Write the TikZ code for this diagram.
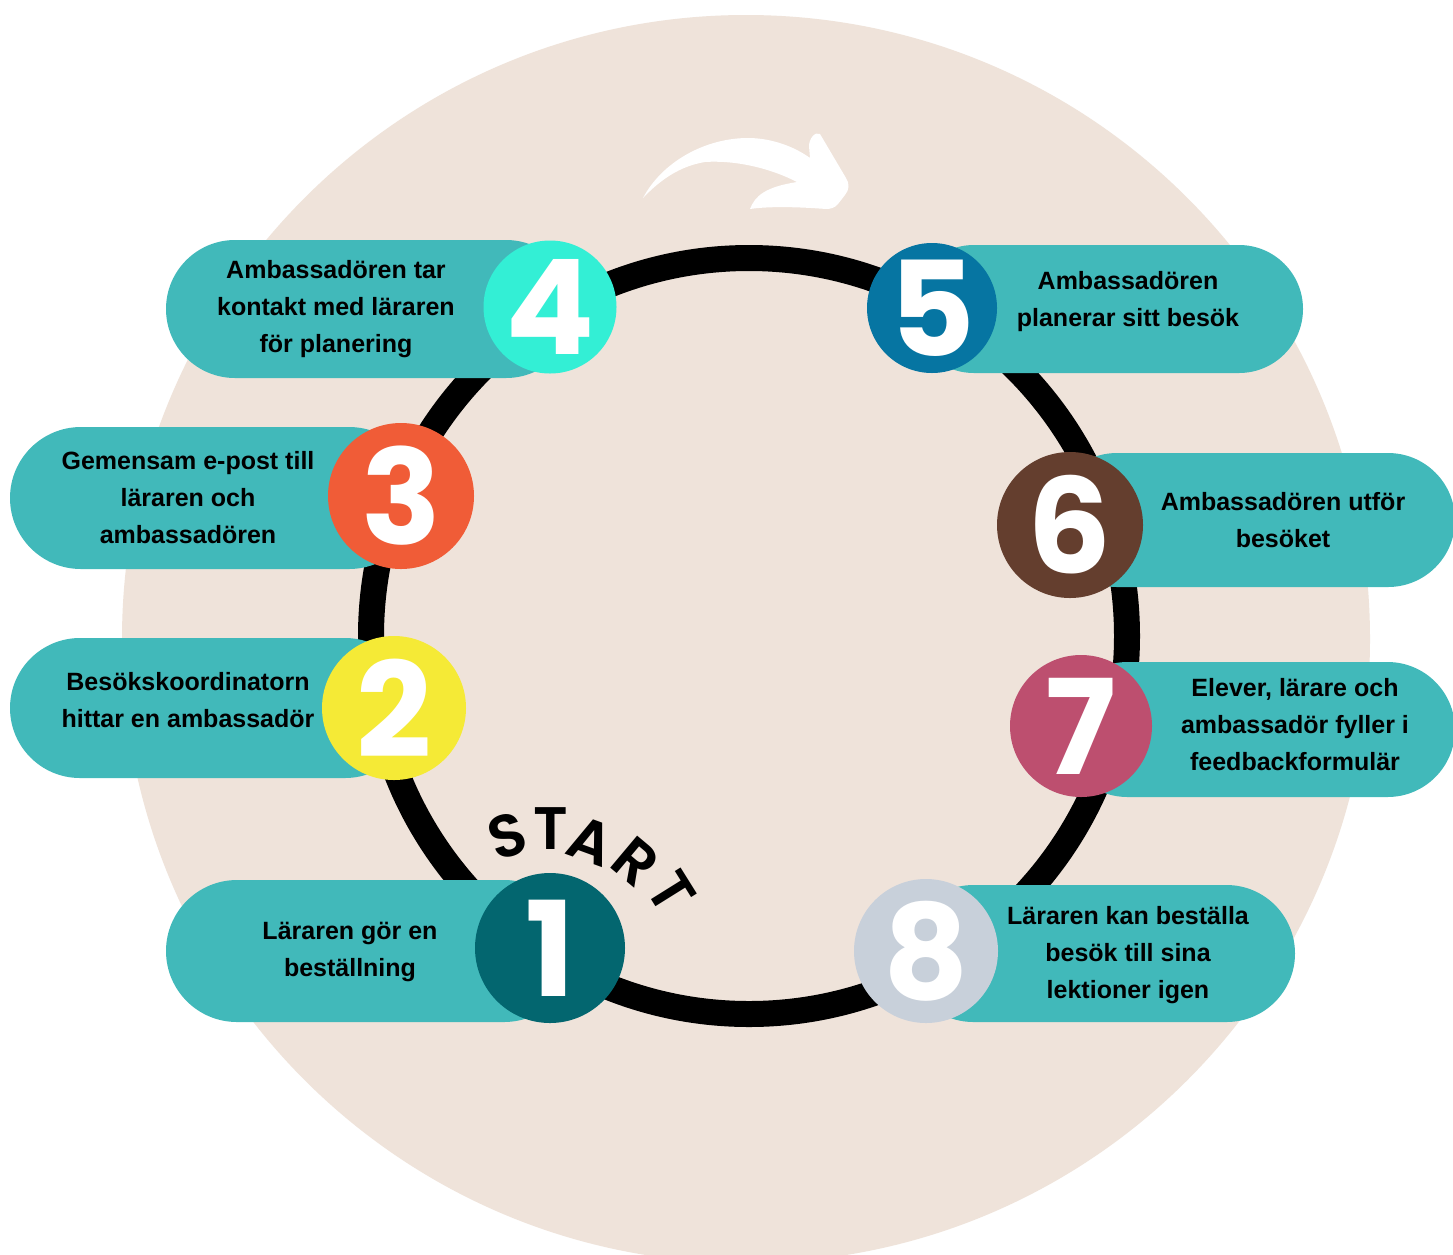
\documentclass[tikz,border=0pt]{standalone}
\usepackage{fontspec}
\setmainfont{Liberation Sans}
\newfontfamily\digitfont{Poppins}
\newfontfamily\startfont{Poppins SemiBold}
\usetikzlibrary{shapes.misc}

\definecolor{beige}{HTML}{EFE3DA}
\definecolor{pillteal}{HTML}{41B9BA}
\definecolor{cone}{HTML}{03666F}
\definecolor{ctwo}{HTML}{F5EA36}
\definecolor{cthree}{HTML}{F05C37}
\definecolor{cfour}{HTML}{33EFD5}
\definecolor{cfive}{HTML}{0675A2}
\definecolor{csix}{HTML}{643E2E}
\definecolor{cseven}{HTML}{BD4F6F}
\definecolor{ceight}{HTML}{C8D0DA}

\begin{document}
\begin{tikzpicture}[x=1pt,y=-1pt,
    pillbox/.style={rounded rectangle,fill=pillteal,inner sep=0pt,outer sep=0pt},
    numdot/.style={circle,inner sep=0pt,text=white,font=\digitfont\bfseries\fontsize{132}{132}\selectfont},
    steptext/.style={align=center,font=\bfseries\fontsize{25}{37}\selectfont},
    startletter/.style={inner sep=0pt,font=\startfont\fontsize{60}{60}\selectfont}]
  \clip (0,0) rectangle (1453,1254);
  \fill[white] (0,0) rectangle (1453,1254);
  % background disc and ring
  \fill[beige] (746,639) circle[radius=624pt];
  \coordinate (mid) at (749,636);
  \draw[line width=26pt] (mid) circle[radius=378pt];
  % white arrow on top
  \fill[white] (643,198) .. controls (662,162) and (705,138) .. (748,138)
    .. controls (772,138) and (795,147) .. (810,158) -- (809,146)
    .. controls (809,139) and (815,131) .. (820,134) -- (846,178)
    .. controls (850,184) and (849,190) .. (845,195) -- (838,204)
    .. controls (835,208) and (830,209) .. (826,209)
    .. controls (800,207) and (770,206) .. (750,209)
    .. controls (755,196) and (765,187) .. (797,182)
    .. controls (770,168) and (735,160) .. (705,162)
    .. controls (680,166) and (660,180) .. (643,198) -- cycle;
  % pills
  \node[pillbox,minimum width=409pt,minimum height=138pt] (p4) at (370.5,309) {};
  \node[pillbox,minimum width=410pt,minimum height=142pt] (p3) at (215,498) {};
  \node[pillbox,minimum width=405pt,minimum height=140pt] (p2) at (212.5,708) {};
  \node[pillbox,minimum width=409pt,minimum height=142pt] (p1) at (370.5,951) {};
  \node[pillbox,minimum width=393pt,minimum height=128pt] (p5) at (1106.5,309) {};
  \node[pillbox,minimum width=405pt,minimum height=134pt] (p6) at (1252.5,520) {};
  \node[pillbox,minimum width=395pt,minimum height=135pt] (p7) at (1257.5,729.5) {};
  \node[pillbox,minimum width=390pt,minimum height=137pt] (p8) at (1100,953.5) {};
  % numbered discs
  \node[numdot,fill=cfour,minimum size=133pt] (n4) at (550,307) {4};
  \node[numdot,fill=cthree,minimum size=146pt] (n3) at (401,496) {3};
  \node[numdot,fill=ctwo,minimum size=144pt] (n2) at (394,708) {2};
  \node[numdot,fill=cone,minimum size=150pt] (n1) at (550,948) {1};
  \node[numdot,fill=cfive,minimum size=130pt] (n5) at (932,308) {5};
  \node[numdot,fill=csix,minimum size=146pt] (n6) at (1070,525) {6};
  \node[numdot,fill=cseven,minimum size=142pt] (n7) at (1081,726) {7};
  \node[numdot,fill=ceight,minimum size=144pt] (n8) at (926,951) {8};
  % step texts
  \node[steptext] (t4) at (336,309) {Ambassadören tar\\kontakt med läraren\\för planering};
  \node[steptext] (t3) at (188,498) {Gemensam e-post till\\läraren och\\ambassadören};
  \node[steptext] (t2) at (188,700) {Besökskoordinatorn\\hittar en ambassadör};
  \node[steptext] (t1) at (350,952) {Läraren gör en\\beställning};
  \node[steptext] (t5) at (1128,302) {Ambassadören\\planerar sitt besök};
  \node[steptext] (t6) at (1283,520) {Ambassadören utför\\besöket};
  \node[steptext] (t7) at (1295,725) {Elever, lärare och\\ambassadör fyller i\\feedbackformulär};
  \node[steptext] (t8) at (1128,955) {Läraren kan beställa\\besök till sina\\lektioner igen};
  % START along the arc
  \node[startletter,rotate=18] (s1) at (507,836) {S};
  \node[startletter,rotate=0] (s2) at (551,829) {T};
  \node[startletter,rotate=-20] (s3) at (591,841) {A};
  \node[startletter,rotate=-40] (s4) at (636,862) {R};
  \node[startletter,rotate=-58] (s5) at (671,892) {T};
\end{tikzpicture}
\end{document}
